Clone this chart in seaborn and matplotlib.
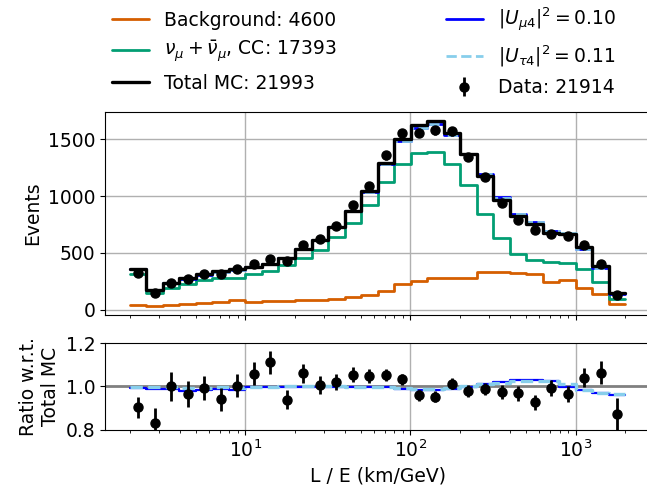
import numpy as np
import pandas as pd
import seaborn as sns
import matplotlib.pyplot as plt
from matplotlib.ticker import FormatStrFormatter

# ---------------------------------------------------------------
# Binned L/E distribution (30 log bins, 2 - 2000 km/GeV)
# ---------------------------------------------------------------
edges = np.logspace(np.log10(2), np.log10(2000), 31)

background = [44, 35, 38, 53, 58, 67, 82, 70, 72, 72,
              85, 88, 89, 111, 124, 164, 222, 254, 275, 276,
              282, 330, 330, 323, 316, 242, 257, 190, 134, 52]
numu_cc = [316, 146, 191, 228, 260, 275, 277, 316, 338, 394,
           457, 527, 639, 762, 920, 1128, 1284, 1380, 1386, 1279,
           1095, 846, 634, 493, 437, 422, 407, 356, 246, 96]
total_mc = [358, 176, 233, 278, 312, 336, 355, 378, 404, 458,
            536, 617, 724, 872, 1041, 1290, 1503, 1625, 1658, 1552,
            1374, 1180, 968, 820, 752, 675, 670, 547, 381, 147]
data = [323, 146, 233, 268, 310, 316, 356, 400, 449, 430,
        569, 621, 739, 919, 1091, 1358, 1553, 1557, 1580, 1572,
        1345, 1165, 942, 793, 697, 670, 647, 569, 405, 128]

# sterile hypotheses, as ratio to the total MC
ratio_umu4 = [0.993, 0.990, 0.988, 0.980, 0.982, 0.990, 0.985, 0.996, 0.998, 0.999,
              0.999, 0.999, 0.999, 0.999, 0.998, 0.995, 0.990, 0.984, 0.984, 0.990,
              0.999, 1.012, 1.021, 1.030, 1.030, 1.027, 0.996, 0.981, 0.969, 0.962]
ratio_utau4 = [0.997, 0.996, 0.996, 0.994, 0.994, 0.996, 0.994, 0.998, 0.999, 1.000,
               1.000, 1.000, 1.000, 0.999, 0.998, 0.995, 0.991, 0.986, 0.986, 0.991,
               1.000, 1.010, 1.018, 1.026, 1.027, 1.024, 1.010, 0.983, 0.971, 0.964]

labels = {
    'bkg': 'Background: 4600',
    'numu': r'$\nu_\mu + \bar{\nu}_\mu$, CC: 17393',
    'total': 'Total MC: 21993',
    'umu4': r'$|U_{\mu4}|^2 = 0.10$',
    'utau4': r'$|U_{\tau4}|^2 = 0.11$',
    'data': 'Data: 21914',
}

sns.set_style('ticks', {'axes.edgecolor': 'black', 'xtick.color': 'black',
                        'ytick.color': 'black', 'text.color': 'black',
                        'axes.labelcolor': 'black'})
plt.rcParams['font.family'] = ['DejaVu Sans']
plt.rcParams['font.size'] = 13.5
plt.rcParams['mathtext.fontset'] = 'dejavusans'

pal = sns.color_palette('colorblind')
c_bkg, c_numu = pal[3], pal[2]

total = np.array(total_mc, float)
dat = np.array(data, float)
centers = np.sqrt(edges[:-1] * edges[1:])


def steps(vals):
    # repeat the last value so the step reaches the final bin edge
    v = np.asarray(vals, float)
    return pd.DataFrame({'x': edges, 'y': np.append(v, v[-1])})


fig = plt.figure(figsize=(6.47, 4.93), dpi=100)
W, H = 647, 493
ax1 = fig.add_axes([105 / W, 1 - 315 / H, (650.2 - 105) / W, (315 - 112.3) / H])
ax2 = fig.add_axes([105 / W, 1 - 429.5 / H, (650.2 - 105) / W, (429.5 - 343.3) / H],
                   sharex=ax1)

# ---------------------------------------------------------------
# Top panel: event counts
# ---------------------------------------------------------------
kw = dict(x='x', y='y', drawstyle='steps-post', sort=False, estimator=None)
sns.lineplot(data=steps(background), ax=ax1, color=c_bkg, lw=2, label=labels['bkg'], **kw)
sns.lineplot(data=steps(numu_cc), ax=ax1, color=c_numu, lw=2, label=labels['numu'], **kw)
sns.lineplot(data=steps(total * np.array(ratio_umu4)), ax=ax1, color='blue', lw=2,
             label=labels['umu4'], **kw)
sns.lineplot(data=steps(total * np.array(ratio_utau4)), ax=ax1, color='skyblue', lw=2,
             ls='--', label=labels['utau4'], **kw)
sns.lineplot(data=steps(total_mc), ax=ax1, color='black', lw=2.4, label=labels['total'], **kw)
ax1.errorbar(centers, dat, yerr=np.sqrt(dat), fmt='o', color='black', ms=6.5,
             elinewidth=2, label=labels['data'], zorder=5)
if ax1.legend_:
    ax1.legend_.remove()

ax1.set_xscale('log')
ax1.set_xlim(1.416, 2825)
ax1.set_ylim(-48, 1738)
ax1.set_yticks([0, 500, 1000, 1500])
ax1.set_ylabel('Events')
ax1.set_xlabel('')
ax1.grid(True, which='major', color='#b0b0b0', lw=1)
ax1.tick_params(axis='x', which='both', labelbottom=False)

# ---------------------------------------------------------------
# Bottom panel: ratio to total MC
# ---------------------------------------------------------------
ax2.axhline(1.0, color='gray', lw=2, zorder=1)
sns.lineplot(data=steps(ratio_umu4), ax=ax2, color='blue', lw=1.6, **kw)
sns.lineplot(data=steps(ratio_utau4), ax=ax2, color='skyblue', lw=2.4, ls='--', **kw)
ax2.errorbar(centers, dat / total, yerr=np.sqrt(dat) / total, fmt='o', color='black',
             ms=6.5, elinewidth=2, zorder=5)
if ax2.legend_:
    ax2.legend_.remove()
ax2.set_ylim(0.8, 1.2)
ax2.set_yticks([0.8, 1.0, 1.2])
ax2.yaxis.set_major_formatter(FormatStrFormatter('%.1f'))
ax2.grid(True, axis='x', which='major', color='#b0b0b0', lw=1)
ax2.set_ylabel('Ratio w.r.t.\nTotal MC')
ax2.set_xlabel('L / E (km/GeV)')

# ---------------------------------------------------------------
# Legend above the panels
# ---------------------------------------------------------------
h, l = ax1.get_legend_handles_labels()
lookup = dict(zip(l, h))
order = ['bkg', 'numu', 'total', 'umu4', 'utau4', 'data']
fig.legend([lookup[labels[k]] for k in order], [labels[k] for k in order],
           ncol=2, loc='upper left', bbox_to_anchor=(95 / W, 1.022),
           frameon=False, columnspacing=5.8)

fig.savefig('out.png', dpi=100)
